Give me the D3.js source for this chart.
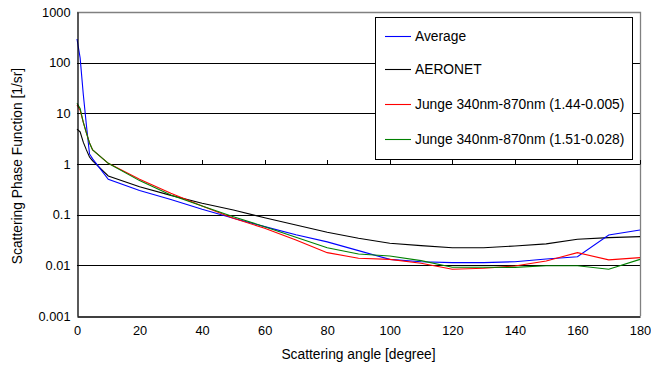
<!DOCTYPE html>
<html>
<head>
<meta charset="utf-8">
<script src="https://cdn.jsdelivr.net/npm/d3@7"></script>
<style>
  body { margin: 0; background: #fff; }
  svg { display: block; font-family: "Liberation Sans", Arial, sans-serif; }
</style>
</head>
<body>
<svg id="chart" width="651" height="370"></svg>
<script>
// Scattering angles (degrees) shared by all series
const angles = [0, 1, 2, 3, 4, 5, 10, 20, 30, 40, 50, 60, 70, 80, 90, 100, 110, 120, 130, 140, 150, 160, 170, 180];

// Phase function values [1/sr]
const average = [293, 124, 24, 5.9, 1.58, 1.26, 0.5, 0.3, 0.2, 0.128, 0.085, 0.058, 0.04, 0.029, 0.0195, 0.0131, 0.0118, 0.0113, 0.0113, 0.0118, 0.0133, 0.0148, 0.0397, 0.0499];
const aeronet = [4.9, 4.3, 2.7, 1.9, 1.37, 1.15, 0.58, 0.356, 0.24, 0.168, 0.124, 0.087, 0.0625, 0.0448, 0.0342, 0.0272, 0.0245, 0.0223, 0.0223, 0.0241, 0.0265, 0.0327, 0.0352, 0.0368];
const junge144 = [14.6, 11.5, 6.7, 4.1, 2.6, 1.9, 1.03, 0.5, 0.264, 0.148, 0.0848, 0.0538, 0.0316, 0.0178, 0.0138, 0.0131, 0.011, 0.00835, 0.00875, 0.0097, 0.0122, 0.0178, 0.0128, 0.0142];
const junge151 = [15.8, 12.5, 6.7, 4.1, 2.6, 1.9, 1.03, 0.47, 0.244, 0.148, 0.0912, 0.058, 0.0357, 0.0223, 0.0167, 0.0153, 0.0124, 0.00915, 0.00915, 0.0091, 0.0098, 0.0098, 0.00835, 0.0131];

const seriesNames = ["Average", "AERONET", "Junge 340nm-870nm (1.44-0.005)", "Junge 340nm-870nm (1.51-0.028)"];
const seriesColors = ["#0000ff", "#000000", "#ff0000", "#008000"];

const xTicks = [0, 20, 40, 60, 80, 100, 120, 140, 160, 180];
const yTicks = [0.001, 0.01, 0.1, 1, 10, 100, 1000];

const svg = d3.select("#chart");
const plotL = 77, plotR = 640, plotT = 12, plotB = 316;
const tickFont = 12.8, labelFont = 13.8;

const x = d3.scaleLinear().domain([0, 180]).range([plotL, plotR]);
const y = d3.scaleLog().domain([0.001, 1000]).range([plotB, plotT]);

// Horizontal gridlines at each decade
svg.append("g")
  .selectAll("line")
  .data(yTicks.filter(v => v > 0.001 && v < 1000))
  .join("line")
  .attr("x1", plotL).attr("x2", plotR)
  .attr("y1", d => Math.round(y(d)) + 0.5).attr("y2", d => Math.round(y(d)) + 0.5)
  .attr("stroke", "#000").attr("stroke-width", 1);

// Plot area frame (top and right in grey)
svg.append("path")
  .attr("d", `M${plotL},${plotT + 0.5}H${plotR + 0.5}V${plotB}`)
  .attr("fill", "none").attr("stroke", "#808080").attr("stroke-width", 1.3);

// Series lines
const lineGen = d3.line().x((d, i) => x(angles[i])).y(d => y(d));
const allSeries = [average, aeronet, junge144, junge151];
[1, 0, 2, 3].forEach(k => {
  svg.append("path")
    .datum(allSeries[k])
    .attr("d", lineGen)
    .attr("fill", "none")
    .attr("stroke", seriesColors[k])
    .attr("stroke-width", 1.1);
});

// Left (value) axis
const yAxis = d3.axisLeft(y).tickValues(yTicks).tickSize(0).tickPadding(7)
  .tickFormat(d => d3.format("~g")(d));
const gy = svg.append("g").attr("transform", `translate(${plotL + 0.5},0)`).call(yAxis);
gy.select(".domain").attr("stroke", "#000").attr("stroke-width", 1.3);
gy.selectAll("text").attr("font-size", tickFont).attr("fill", "#000");

// Bottom axis line and labels
const xAxis = d3.axisBottom(x).tickValues(xTicks).tickSize(0).tickPadding(9);
const gx = svg.append("g").attr("transform", `translate(0,${plotB + 0.5})`).call(xAxis);
gx.select(".domain").attr("stroke", "#000").attr("stroke-width", 1.3);
gx.selectAll("text").attr("font-size", tickFont).attr("fill", "#000");

// Category axis crosses at 1: tick marks sit on that line
svg.append("g")
  .selectAll("line")
  .data(xTicks.slice(1))
  .join("line")
  .attr("x1", d => Math.round(x(d)) + 0.5).attr("x2", d => Math.round(x(d)) + 0.5)
  .attr("y1", Math.round(y(1)) - 4).attr("y2", Math.round(y(1)) + 0.5)
  .attr("stroke", "#000").attr("stroke-width", 1);

// Axis titles
svg.append("text")
  .attr("x", (plotL + plotR) / 2).attr("y", 359)
  .attr("text-anchor", "middle").attr("font-size", labelFont)
  .text("Scattering angle [degree]");
svg.append("text")
  .attr("transform", `translate(22,${(plotT + plotB) / 2 + 2}) rotate(-90)`)
  .attr("text-anchor", "middle").attr("font-size", labelFont)
  .text("Scattering Phase Function [1/sr]");

// Legend
const lg = svg.append("g");
lg.append("rect")
  .attr("x", 375.5).attr("y", 17.5).attr("width", 257).attr("height", 142)
  .attr("fill", "#fff").attr("stroke", "#000").attr("stroke-width", 1);
const rowsY = [36, 69, 104, 139];
seriesNames.forEach((name, i) => {
  lg.append("line")
    .attr("x1", 385).attr("x2", 411)
    .attr("y1", rowsY[i] + 0.5).attr("y2", rowsY[i] + 0.5)
    .attr("stroke", seriesColors[i]).attr("stroke-width", 1.1);
  lg.append("text")
    .attr("x", 415).attr("y", rowsY[i] + 5)
    .attr("font-size", labelFont)
    .text(name);
});
</script>
</body>
</html>
